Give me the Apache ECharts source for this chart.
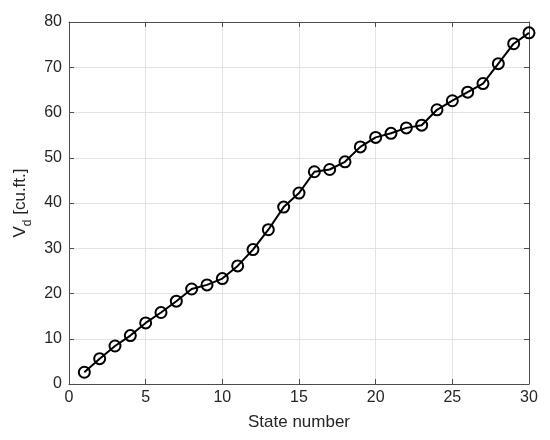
<!DOCTYPE html>
<html>
<head>
<meta charset="utf-8">
<script src="https://cdn.jsdelivr.net/npm/echarts@6/dist/echarts.min.js"></script>
<style>
  html, body { margin: 0; padding: 0; background: #fff; }
  #container { width: 550px; height: 440px; }
</style>
</head>
<body>
<div id="container"></div>
<script>
var states = [1, 2, 3, 4, 5, 6, 7, 8, 9, 10, 11, 12, 13, 14, 15,
              16, 17, 18, 19, 20, 21, 22, 23, 24, 25, 26, 27, 28, 29, 30];
var volumes = [2.6, 5.6, 8.4, 10.7, 13.5, 15.8, 18.3, 21.0, 21.9, 23.3,
               26.1, 29.7, 34.1, 39.1, 42.2, 46.9, 47.4, 49.1, 52.4, 54.5,
               55.4, 56.6, 57.2, 60.6, 62.6, 64.5, 66.4, 70.8, 75.2, 77.6];

var myChart = echarts.init(document.getElementById('container'));

var font = 'Liberation Sans, Arial, sans-serif';
var axisColor = '#4d4d4d';
var textColor = '#262626';

var points = states.map(function(s, i) { return [s, volumes[i]]; });

var option = {
  backgroundColor: '#fff',
  animation: false,
  grid: { left: 69, right: 21, top: 22, bottom: 56 },
  xAxis: [{
    type: 'value', min: 0, max: 30, interval: 5,
    name: 'State number', nameLocation: 'middle', nameGap: 30,
    nameTextStyle: { color: textColor, fontSize: 17, fontFamily: font },
    axisLine: { show: true, onZero: false, lineStyle: { color: axisColor, width: 1 } },
    axisTick: { show: true, inside: true, length: 5, lineStyle: { color: axisColor } },
    axisLabel: { color: textColor, fontSize: 16, fontFamily: font, margin: 6 },
    splitLine: { show: true, lineStyle: { color: '#e3e3e3', width: 1 } }
  }, {
    type: 'value', min: 0, max: 30, interval: 5, position: 'top',
    axisLine: { show: true, onZero: false, lineStyle: { color: axisColor, width: 1 } },
    axisTick: { show: true, inside: true, length: 5, lineStyle: { color: axisColor } },
    axisLabel: { show: false }, splitLine: { show: false }
  }],
  yAxis: [{
    type: 'value', min: 0, max: 80, interval: 10,
    name: '{v|V}{d|d}{v| [cu.ft.]}', nameLocation: 'middle', nameGap: 28, nameRotate: 90,
    nameTextStyle: {
      color: textColor, fontFamily: font,
      rich: {
        v: { fontSize: 17, color: textColor, fontFamily: font },
        d: { fontSize: 12, color: textColor, fontFamily: font, padding: [14, 0, 0, 0] }
      }
    },
    axisLine: { show: true, onZero: false, lineStyle: { color: axisColor, width: 1 } },
    axisTick: { show: true, inside: true, length: 5, lineStyle: { color: axisColor } },
    axisLabel: { color: textColor, fontSize: 16, fontFamily: font, margin: 7 },
    splitLine: { show: true, lineStyle: { color: '#e3e3e3', width: 1 } }
  }, {
    type: 'value', min: 0, max: 80, interval: 10, position: 'right',
    axisLine: { show: true, onZero: false, lineStyle: { color: axisColor, width: 1 } },
    axisTick: { show: true, inside: true, length: 5, lineStyle: { color: axisColor } },
    axisLabel: { show: false }, splitLine: { show: false }
  }],
  series: [{
    type: 'line',
    data: points,
    symbol: 'circle',
    symbolSize: 11,
    showAllSymbol: true,
    lineStyle: { color: '#000', width: 2 },
    itemStyle: { color: 'rgba(0,0,0,0)', borderColor: '#000', borderWidth: 2 },
    z: 5
  }, {
    // empty series so the top and right frame axes are drawn
    type: 'line', xAxisIndex: 1, yAxisIndex: 1, data: [], silent: true
  }]
};

myChart.setOption(option);
</script>
</body>
</html>
